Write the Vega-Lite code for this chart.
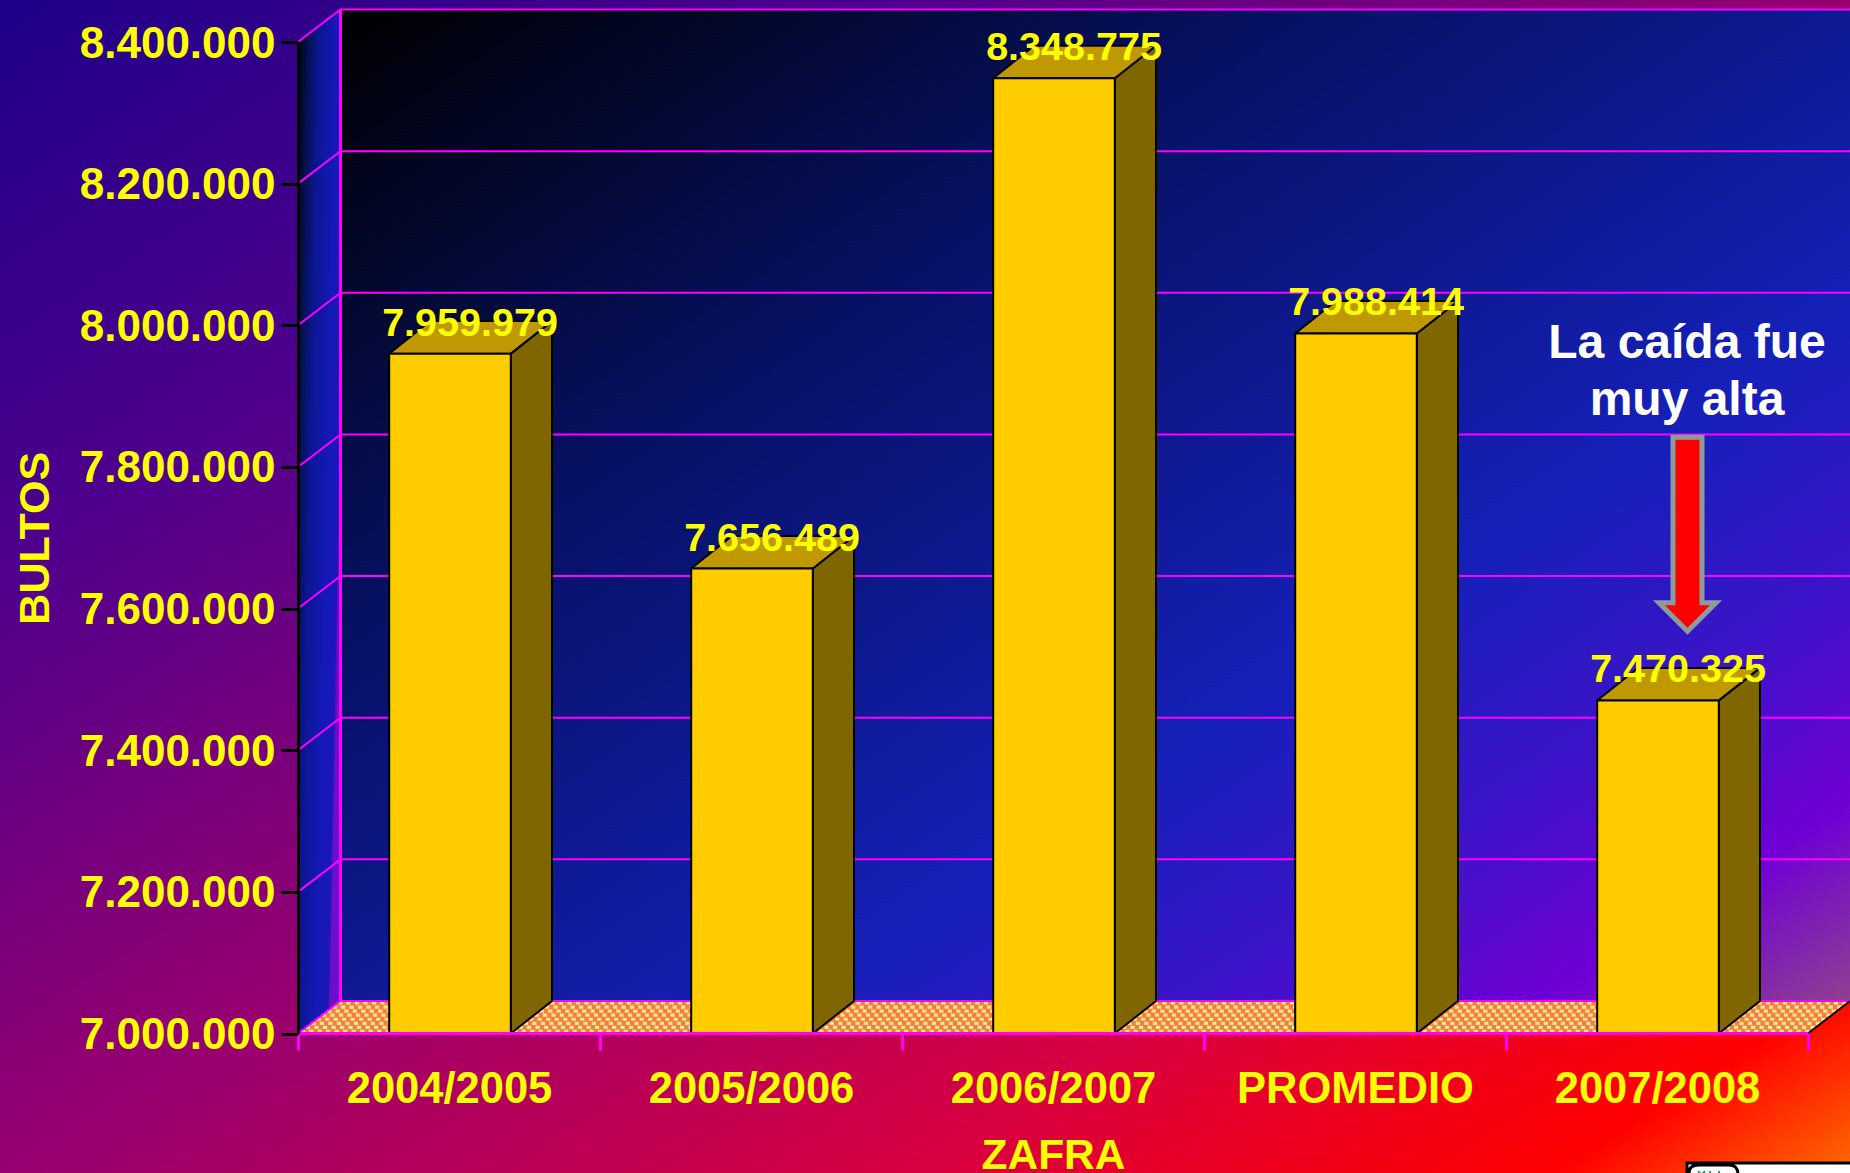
{
"$schema":"https://vega.github.io/schema/vega-lite/v6.json",
"width":1850,"height":1173,"autosize":{"type":"none"},"padding":0,
"background":"#8a0078",
"view":{"stroke":null,"fill":{"gradient":"linear","x1":0,"y1":0,"x2":1,"y2":1,"stops":[{"offset":0,"color":"#1e0088"},{"offset":0.25,"color":"#50008c"},{"offset":0.5,"color":"#960070"},{"offset":0.75,"color":"#d80040"},{"offset":0.92,"color":"#ff0000"},{"offset":1,"color":"#ff6a00"}]}},
"config":{"locale":{"number":{"decimal":",","thousands":".","grouping":[3],"currency":["",""]}},"font":"Liberation Sans"},
"datasets":{
"barras":[{"zafra":"2004/2005","bultos":7959979},{"zafra":"2005/2006","bultos":7656489},{"zafra":"2006/2007","bultos":8348775},{"zafra":"PROMEDIO","bultos":7988414},{"zafra":"2007/2008","bultos":7470325}],
"tapas":[
{"zafra":"2004/2005","orden":0,"vertice":0,"alto":7959979},{"zafra":"2004/2005","orden":1,"vertice":1,"alto":7959979},{"zafra":"2004/2005","orden":2,"vertice":2,"alto":8005892},{"zafra":"2004/2005","orden":3,"vertice":3,"alto":8005892},{"zafra":"2004/2005","orden":4,"vertice":0,"alto":7959979},
{"zafra":"2005/2006","orden":0,"vertice":0,"alto":7656489},{"zafra":"2005/2006","orden":1,"vertice":1,"alto":7656489},{"zafra":"2005/2006","orden":2,"vertice":2,"alto":7702402},{"zafra":"2005/2006","orden":3,"vertice":3,"alto":7702402},{"zafra":"2005/2006","orden":4,"vertice":0,"alto":7656489},
{"zafra":"2006/2007","orden":0,"vertice":0,"alto":8348775},{"zafra":"2006/2007","orden":1,"vertice":1,"alto":8348775},{"zafra":"2006/2007","orden":2,"vertice":2,"alto":8394688},{"zafra":"2006/2007","orden":3,"vertice":3,"alto":8394688},{"zafra":"2006/2007","orden":4,"vertice":0,"alto":8348775},
{"zafra":"PROMEDIO","orden":0,"vertice":0,"alto":7988414},{"zafra":"PROMEDIO","orden":1,"vertice":1,"alto":7988414},{"zafra":"PROMEDIO","orden":2,"vertice":2,"alto":8034327},{"zafra":"PROMEDIO","orden":3,"vertice":3,"alto":8034327},{"zafra":"PROMEDIO","orden":4,"vertice":0,"alto":7988414},
{"zafra":"2007/2008","orden":0,"vertice":0,"alto":7470325},{"zafra":"2007/2008","orden":1,"vertice":1,"alto":7470325},{"zafra":"2007/2008","orden":2,"vertice":2,"alto":7516238},{"zafra":"2007/2008","orden":3,"vertice":3,"alto":7516238},{"zafra":"2007/2008","orden":4,"vertice":0,"alto":7470325}],
"lados":[
{"zafra":"2004/2005","orden":0,"vertice":1,"alto":7959979},{"zafra":"2004/2005","orden":1,"vertice":2,"alto":8005892},{"zafra":"2004/2005","orden":2,"vertice":2,"alto":7045913},{"zafra":"2004/2005","orden":3,"vertice":1,"alto":7000000},{"zafra":"2004/2005","orden":4,"vertice":1,"alto":7959979},
{"zafra":"2005/2006","orden":0,"vertice":1,"alto":7656489},{"zafra":"2005/2006","orden":1,"vertice":2,"alto":7702402},{"zafra":"2005/2006","orden":2,"vertice":2,"alto":7045913},{"zafra":"2005/2006","orden":3,"vertice":1,"alto":7000000},{"zafra":"2005/2006","orden":4,"vertice":1,"alto":7656489},
{"zafra":"2006/2007","orden":0,"vertice":1,"alto":8348775},{"zafra":"2006/2007","orden":1,"vertice":2,"alto":8394688},{"zafra":"2006/2007","orden":2,"vertice":2,"alto":7045913},{"zafra":"2006/2007","orden":3,"vertice":1,"alto":7000000},{"zafra":"2006/2007","orden":4,"vertice":1,"alto":8348775},
{"zafra":"PROMEDIO","orden":0,"vertice":1,"alto":7988414},{"zafra":"PROMEDIO","orden":1,"vertice":2,"alto":8034327},{"zafra":"PROMEDIO","orden":2,"vertice":2,"alto":7045913},{"zafra":"PROMEDIO","orden":3,"vertice":1,"alto":7000000},{"zafra":"PROMEDIO","orden":4,"vertice":1,"alto":7988414},
{"zafra":"2007/2008","orden":0,"vertice":1,"alto":7470325},{"zafra":"2007/2008","orden":1,"vertice":2,"alto":7516238},{"zafra":"2007/2008","orden":2,"vertice":2,"alto":7045913},{"zafra":"2007/2008","orden":3,"vertice":1,"alto":7000000},{"zafra":"2007/2008","orden":4,"vertice":1,"alto":7470325}],
"fondo":[{"orden":0,"plano":1,"alto":8445913},{"orden":1,"plano":3,"alto":8445913},{"orden":2,"plano":3,"alto":7045913},{"orden":3,"plano":1,"alto":7045913}],
"pared":[{"orden":0,"plano":0,"alto":8400000},{"orden":1,"plano":1,"alto":8445913},{"orden":2,"plano":1,"alto":7045913},{"orden":3,"plano":0,"alto":7000000}],
"piso":[{"orden":0,"plano":0,"alto":7000000},{"orden":1,"plano":2,"alto":7000000},{"orden":2,"plano":3,"alto":7045913},{"orden":3,"plano":1,"alto":7045913}],
"trama":[
{"fila":1,"plano":0.0625,"alto":7002870},{"fila":1,"plano":2.0625,"alto":7002870},
{"fila":2,"plano":0.1875,"alto":7008609},{"fila":2,"plano":2.1875,"alto":7008609},
{"fila":3,"plano":0.3125,"alto":7014348},{"fila":3,"plano":2.3125,"alto":7014348},
{"fila":4,"plano":0.4375,"alto":7020087},{"fila":4,"plano":2.4375,"alto":7020087},
{"fila":5,"plano":0.5625,"alto":7025826},{"fila":5,"plano":2.5625,"alto":7025826},
{"fila":6,"plano":0.6875,"alto":7031565},{"fila":6,"plano":2.6875,"alto":7031565},
{"fila":7,"plano":0.8125,"alto":7037304},{"fila":7,"plano":2.8125,"alto":7037304},
{"fila":8,"plano":0.9375,"alto":7043043},{"fila":8,"plano":2.9375,"alto":7043043}],
"rejilla":[
{"linea":7000000,"plano":0,"alto":7000000},{"linea":7000000,"plano":1,"alto":7045913},{"linea":7000000,"plano":3,"alto":7045913},
{"linea":7200000,"plano":0,"alto":7200000},{"linea":7200000,"plano":1,"alto":7245913},{"linea":7200000,"plano":3,"alto":7245913},
{"linea":7400000,"plano":0,"alto":7400000},{"linea":7400000,"plano":1,"alto":7445913},{"linea":7400000,"plano":3,"alto":7445913},
{"linea":7600000,"plano":0,"alto":7600000},{"linea":7600000,"plano":1,"alto":7645913},{"linea":7600000,"plano":3,"alto":7645913},
{"linea":7800000,"plano":0,"alto":7800000},{"linea":7800000,"plano":1,"alto":7845913},{"linea":7800000,"plano":3,"alto":7845913},
{"linea":8000000,"plano":0,"alto":8000000},{"linea":8000000,"plano":1,"alto":8045913},{"linea":8000000,"plano":3,"alto":8045913},
{"linea":8200000,"plano":0,"alto":8200000},{"linea":8200000,"plano":1,"alto":8245913},{"linea":8200000,"plano":3,"alto":8245913},
{"linea":8400000,"plano":0,"alto":8400000},{"linea":8400000,"plano":1,"alto":8445913},{"linea":8400000,"plano":3,"alto":8445913}],
"esquina":[{"plano":1,"alto":7045913},{"plano":1,"alto":8445913}],
"borde":[{"plano":2,"alto":7000000},{"plano":3,"alto":7045913}],
"nota":[{"zafra":"2007/2008","alto":7953300,"texto":["La caída fue","muy alta"]}],
"flecha":[{"zafra":"2007/2008","alto":7707000}],
"logo":[{"zafra":"2007/2008","alto":6817000}]
},
"layer":[
{"encoding":{
 "x":{"field":"plano","type":"quantitative","scale":{"domain":[0,1,2,3],"range":[298,340.5,1808,1850]},"axis":null},
 "y":{"field":"alto","type":"quantitative","stack":null,"scale":{"domain":[7000000,8400000],"range":[1033.5,42],"zero":false,"nice":false},
  "axis":{"orient":"left","offset":-298,"zindex":1,"values":[7000000,7200000,7400000,7600000,7800000,8000000,8200000,8400000],"format":",d","title":"BULTOS","titleFont":"Liberation Sans","titleFontSize":43,"titleFontWeight":"bold","titleColor":"#ffff00","titlePadding":41,"labelFont":"Liberation Sans","labelFontSize":44,"labelFontWeight":"bold","labelColor":"#ffff00","labelPadding":6,"labelOffset":2,"labelOverlap":false,"labelLimit":0,"tickColor":"#000000","tickWidth":3,"tickSize":17,"domainColor":"#000000","domainWidth":3,"grid":false}}},
 "layer":[
 {"data":{"name":"fondo"},"mark":{"type":"line","filled":true,"strokeWidth":0,"fill":{"gradient":"linear","x1":0,"y1":0,"x2":1,"y2":1,"stops":[{"offset":0,"color":"#000000"},{"offset":0.3,"color":"#06105e"},{"offset":0.65,"color":"#1520b8"},{"offset":0.78,"color":"#3a14c8"},{"offset":0.9,"color":"#7000d4"},{"offset":1,"color":"#8f4090"}]}},"encoding":{"order":{"field":"orden"}}},
 {"data":{"name":"pared"},"mark":{"type":"line","filled":true,"strokeWidth":0,"fill":{"gradient":"linear","x1":0,"y1":0,"x2":1,"y2":0.5,"stops":[{"offset":0,"color":"#000010"},{"offset":0.2,"color":"#04104f"},{"offset":0.4,"color":"#0c1690"},{"offset":0.75,"color":"#1419b8"},{"offset":0.95,"color":"#1c16b8"},{"offset":1,"color":"#6c10c8"}]}},"encoding":{"order":{"field":"orden"}}},
 {"data":{"name":"piso"},"mark":{"type":"line","filled":true,"strokeWidth":0,"fill":"#fb7a40"},"encoding":{"order":{"field":"orden"}}},
 {"data":{"name":"trama"},"mark":{"type":"line","stroke":"#ffe98f","strokeWidth":3.2,"strokeDash":[4.2,4.3]},"encoding":{"detail":{"field":"fila"}}},
 {"data":{"name":"rejilla"},"mark":{"type":"line","stroke":"#ff00ff","strokeWidth":2},"encoding":{"detail":{"field":"linea"}}},
 {"data":{"name":"esquina"},"mark":{"type":"line","stroke":"#ff00ff","strokeWidth":3}},
 {"data":{"name":"borde"},"mark":{"type":"line","stroke":"#000000","strokeWidth":2}}
 ]},
{"encoding":{
 "x":{"field":"zafra","type":"nominal","sort":null,"scale":{"domain":["2004/2005","2005/2006","2006/2007","PROMEDIO","2007/2008"],"range":[298,1808],"paddingInner":0,"paddingOuter":0},
  "axis":{"orient":"bottom","offset":-140,"zindex":1,"title":"ZAFRA","titleFont":"Liberation Sans","titleFontSize":42.5,"titleFontWeight":"bold","titleColor":"#ffff00","titlePadding":24,"labelFont":"Liberation Sans","labelFontSize":43.5,"labelFontWeight":"bold","labelColor":"#ffff00","labelAngle":0,"labelPadding":18,"labelOverlap":false,"labelLimit":0,"tickBand":"extent","tickColor":"#ff00ff","tickWidth":3,"tickSize":17,"domainColor":"#ff00ff","domainWidth":3,"grid":false}},
 "y":{"field":"alto","type":"quantitative","stack":null,"scale":{"domain":[7000000,8400000],"range":[1033.5,42],"zero":false,"nice":false},
  "axis":{"orient":"left","offset":-298,"zindex":1,"values":[7000000,7200000,7400000,7600000,7800000,8000000,8200000,8400000],"format":",d","title":"BULTOS","titleFont":"Liberation Sans","titleFontSize":43,"titleFontWeight":"bold","titleColor":"#ffff00","titlePadding":41,"labelFont":"Liberation Sans","labelFontSize":44,"labelFontWeight":"bold","labelColor":"#ffff00","labelPadding":6,"labelOffset":2,"labelOverlap":false,"labelLimit":0,"tickColor":"#000000","tickWidth":3,"tickSize":17,"domainColor":"#000000","domainWidth":3,"grid":false}}},
 "layer":[
 {"data":{"name":"lados"},"mark":{"type":"line","filled":true,"fill":"#806600","stroke":"#000000","strokeWidth":2},"encoding":{"x":{"field":"zafra","type":"nominal","sort":null,"bandPosition":0},"xOffset":{"field":"vertice","type":"quantitative","scale":{"domain":[0,1,2,3],"range":[91.2,212.8,254,132]}},"detail":{"field":"zafra"},"order":{"field":"orden"}}},
 {"data":{"name":"tapas"},"mark":{"type":"line","filled":true,"fill":"#c09900","stroke":"#000000","strokeWidth":2},"encoding":{"x":{"field":"zafra","type":"nominal","sort":null,"bandPosition":0},"xOffset":{"field":"vertice","type":"quantitative","scale":{"domain":[0,1,2,3],"range":[91.2,212.8,254,132]}},"detail":{"field":"zafra"},"order":{"field":"orden"}}},
 {"data":{"name":"barras"},"mark":{"type":"bar","width":121.6,"xOffset":1,"fill":"#ffcc00","stroke":"#000000","strokeWidth":2},"encoding":{"y":{"field":"bultos","type":"quantitative","stack":null},"y2":{"datum":7000000}}},
 {"data":{"name":"barras"},"mark":{"type":"text","font":"Liberation Sans","fontWeight":"bold","fontSize":39.5,"fill":"#ffff00","align":"center","baseline":"alphabetic","dx":21,"dy":-18},"encoding":{"y":{"field":"bultos","type":"quantitative","stack":null},"text":{"field":"bultos","type":"quantitative","format":",d"}}},
 {"data":{"name":"nota"},"mark":{"type":"text","font":"Liberation Sans","fontWeight":"bold","fontSize":48,"lineHeight":57,"fill":"#ffffff","align":"center","baseline":"alphabetic","dx":30},"encoding":{"text":{"field":"texto"}}},
 {"data":{"name":"flecha"},"mark":{"type":"point","shape":"M-.145,-.955 L.145,-.955 L.145,.70 L.285,.70 L0,.985 L-.285,.70 L-.145,.70 Z","size":40000,"filled":true,"fill":"#ff0000","stroke":"#8a9c9c","strokeWidth":5,"opacity":1,"xOffset":30.5}},
 {"data":{"name":"logo"},"mark":{"type":"point","shape":"M.30,0 L2,0 L2,.5 L.30,.5 Z M.32,.3 L.32,.1 Q.32,.02 .42,.02 L.72,.02 Q.80,.02 .81,.1 L.81,.3","size":40000,"filled":true,"fill":"#ffffff","stroke":"#000000","strokeWidth":3,"opacity":1}},
 {"data":{"name":"logo"},"mark":{"type":"point","shape":"M.41,.08 L.445,.12 L.48,.08 M.445,.12 L.445,.2 M.53,.08 L.53,.2 M.62,.08 L.62,.2 M.53,.12 L.62,.12","size":40000,"filled":false,"stroke":"#10a870","strokeWidth":2,"opacity":1}}
 ]}
],
"resolve":{"scale":{"x":"independent"},"axis":{"x":"independent"}}
}
